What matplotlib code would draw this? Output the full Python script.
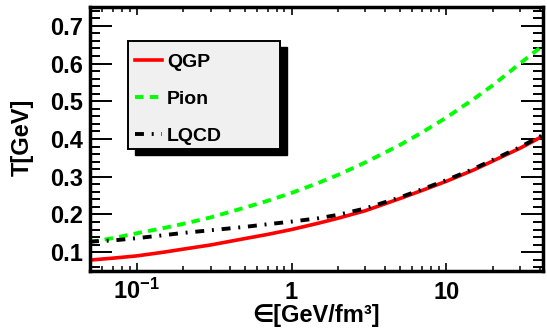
import matplotlib
matplotlib.use("Agg")
import matplotlib.pyplot as plt
from matplotlib.patches import Rectangle
from matplotlib.ticker import FixedLocator, FixedFormatter, LogLocator, NullFormatter, MultipleLocator

# energy density [GeV/fm^3] and temperature [GeV]
eps = [0.05, 0.07, 0.1, 0.15, 0.2, 0.3, 0.5, 0.7, 1, 1.5, 2, 3, 5, 7, 10, 15, 20, 30, 42]
t_qgp = [0.079, 0.084, 0.090, 0.100, 0.108, 0.119, 0.136, 0.147, 0.160, 0.177,
         0.190, 0.210, 0.242, 0.264, 0.288, 0.318, 0.342, 0.376, 0.408]
t_pion = [0.127, 0.137, 0.150, 0.164, 0.175, 0.192, 0.218, 0.236, 0.257, 0.284,
          0.305, 0.338, 0.384, 0.418, 0.457, 0.506, 0.543, 0.601, 0.648]
t_lqcd = [0.128, 0.131, 0.137, 0.145, 0.151, 0.158, 0.167, 0.174, 0.181, 0.190,
          0.199, 0.216, 0.245, 0.267, 0.291, 0.321, 0.345, 0.379, 0.411]

x_ticks = [0.1, 1, 10]
x_labels = [r"$10^{-1}$", "1", "10"]

plt.rcParams["font.family"] = ["Liberation Sans", "DejaVu Sans"]
plt.rcParams["font.weight"] = "bold"
plt.rcParams["mathtext.fontset"] = "custom"
plt.rcParams["mathtext.rm"] = "Liberation Sans:bold"
plt.rcParams["mathtext.bf"] = "Liberation Sans:bold"
plt.rcParams["mathtext.default"] = "bf"

W, H = 547, 328
fig = plt.figure(figsize=(W / 100, H / 100), dpi=100)
ax = fig.add_axes([90 / W, 57 / H, 453 / W, 264 / H])

ax.plot(eps, t_qgp, color="#ff0000", lw=2.6, label="QGP")
ax.plot(eps, t_pion, color="#00ff00", lw=2.8, ls=(0, (2.2, 1.6)), label="Pion")
ax.plot(eps, t_lqcd, color="black", lw=2.8, ls=(0, (2.3, 2.0, 0.5, 2.0)), label="LQCD")

ax.set_xscale("log")
ax.set_xlim(0.05, 42)
ax.set_ylim(0.05, 0.75)

ax.xaxis.set_major_locator(FixedLocator(x_ticks))
ax.xaxis.set_major_formatter(FixedFormatter(x_labels))
ax.xaxis.set_minor_locator(LogLocator(base=10, subs=range(2, 10), numticks=20))
ax.xaxis.set_minor_formatter(NullFormatter())
ax.yaxis.set_major_locator(MultipleLocator(0.1))
ax.yaxis.set_minor_locator(MultipleLocator(0.02))

ax.tick_params(which="both", direction="in", top=True, right=True, labelsize=17)
ax.tick_params(axis="x", which="major", length=6, width=1.2, pad=20)
ax.tick_params(axis="x", which="minor", length=3.5, width=1.1)
ax.tick_params(axis="y", which="major", length=16, width=1.4, pad=5)
ax.tick_params(axis="y", which="minor", length=7, width=1.4)
for lab in ax.get_xticklabels():
    lab.set_verticalalignment("baseline")
for sp in ax.spines.values():
    sp.set_linewidth(2.5)

ax.set_xlabel("∈[GeV/fm³]", fontsize=17, fontweight="bold")
ax.set_ylabel("T[GeV]", fontsize=17, fontweight="bold")
ax.xaxis.set_label_coords(0.5, -0.125)
ax.yaxis.set_label_coords(-0.125, 0.505)

# ROOT style legend box with a black drop shadow
box = (0.0839, 0.462, 0.3355, 0.409)
ax.add_patch(Rectangle((box[0] + 0.015, box[1] - 0.023), box[2], box[3],
                       transform=ax.transAxes, facecolor="black", edgecolor="black",
                       clip_on=False, zorder=4))
ax.add_patch(Rectangle(box[:2], box[2], box[3], transform=ax.transAxes,
                       facecolor="#f0f0f0", edgecolor="black", lw=1.4,
                       clip_on=False, zorder=4))
ax.legend(loc="upper left", bbox_to_anchor=(0.0993, 0.825), frameon=False,
          fontsize=14, borderpad=0, borderaxespad=0, handlelength=1.4,
          handletextpad=0.25, labelspacing=1.0)

fig.savefig("out.png", dpi=100)
